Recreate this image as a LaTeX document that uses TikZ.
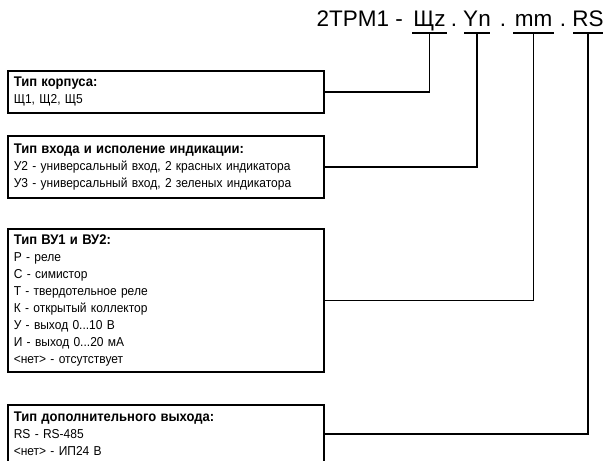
\documentclass[tikz,border=0pt]{standalone}
\usepackage{fontspec}
\setmainfont{Liberation Sans}
\newfontfamily\bodyfont[FakeStretch=0.93]{Liberation Sans}
\newcommand{\hd}[1]{{\fontsize{14}{17}\selectfont\bfseries #1}}
\begin{document}
\begin{tikzpicture}[x=1pt,y=-1pt,
  box/.style={draw, line width=1.6pt, anchor=north west, minimum width=316pt,
    text width=304pt, inner xsep=6pt, inner ysep=0pt, align=left,
    font=\bodyfont\fontsize{12.9}{16.9}\selectfont},
  code/.style={anchor=base, inner sep=0pt, font=\fontsize{22.5}{26}\selectfont},
  link/.style={line width=1.6pt}]
\useasboundingbox (0,0) rectangle (609,460);
\clip (0,0) rectangle (609,460);
% title
\node[code, anchor=base east] (t0) at (403,27) {2TPM1 -};
\node[code] (c1) at (429.5,27) {Щz};
\node[code] (d1) at (454,27) {.};
\node[code] (c2) at (477,27) {Yn};
\node[code] (d2) at (503,27) {.};
\node[code] (c3) at (533.5,27) {mm};
\node[code] (d3) at (563,27) {.};
\node[code] (c4) at (588,27) {RS};
\coordinate (u1) at ([yshift=-6.3pt]c1.base);
\coordinate (u2) at ([yshift=-6.3pt]c2.base);
\coordinate (u3) at ([yshift=-6.3pt]c3.base);
\coordinate (u4) at ([yshift=-6.3pt]c4.base);
\draw[link] ([xshift=-17.5pt]u1) -- ([xshift=17.5pt]u1);
\draw[link] ([xshift=-13pt]u2) -- ([xshift=13pt]u2);
\draw[link] ([xshift=-20.5pt]u3) -- ([xshift=20.5pt]u3);
\draw[link] ([xshift=-15pt]u4) -- ([xshift=15pt]u4);
% boxes
\node[box, minimum height=42pt] (b1) at (7,70)
  {\hd{Тип корпуса:}\\Щ1, Щ2, Щ5};
\node[box, minimum height=62pt] (b2) at (7,135)
  {\hd{Тип входа и исполение индикации:}\\
   У2 - универсальный вход, 2 красных индикатора\\
   У3 - универсальный вход, 2 зеленых индикатора};
\node[box, minimum height=143pt] (b3) at (7,228)
  {\hd{Тип ВУ1 и ВУ2:}\\
   Р - реле\\
   С - симистор\\
   Т - твердотельное реле\\
   К - открытый коллектор\\
   У - выход 0...10 В\\
   И - выход 0...20 мА\\
   <нет> - отсутствует};
\node[box, minimum height=58pt] (b4) at (7,404)
  {\hd{Тип дополнительного выхода:}\\
   RS - RS-485\\
   <нет> - ИП24 В};
% connectors
\draw[link] (b1.east) -| (u1);
\draw[link] (b2.east) -| (u2);
\draw[link] (b3.east) -| (u3);
\draw[link] (b4.east) -| (u4);
\end{tikzpicture}
\end{document}
